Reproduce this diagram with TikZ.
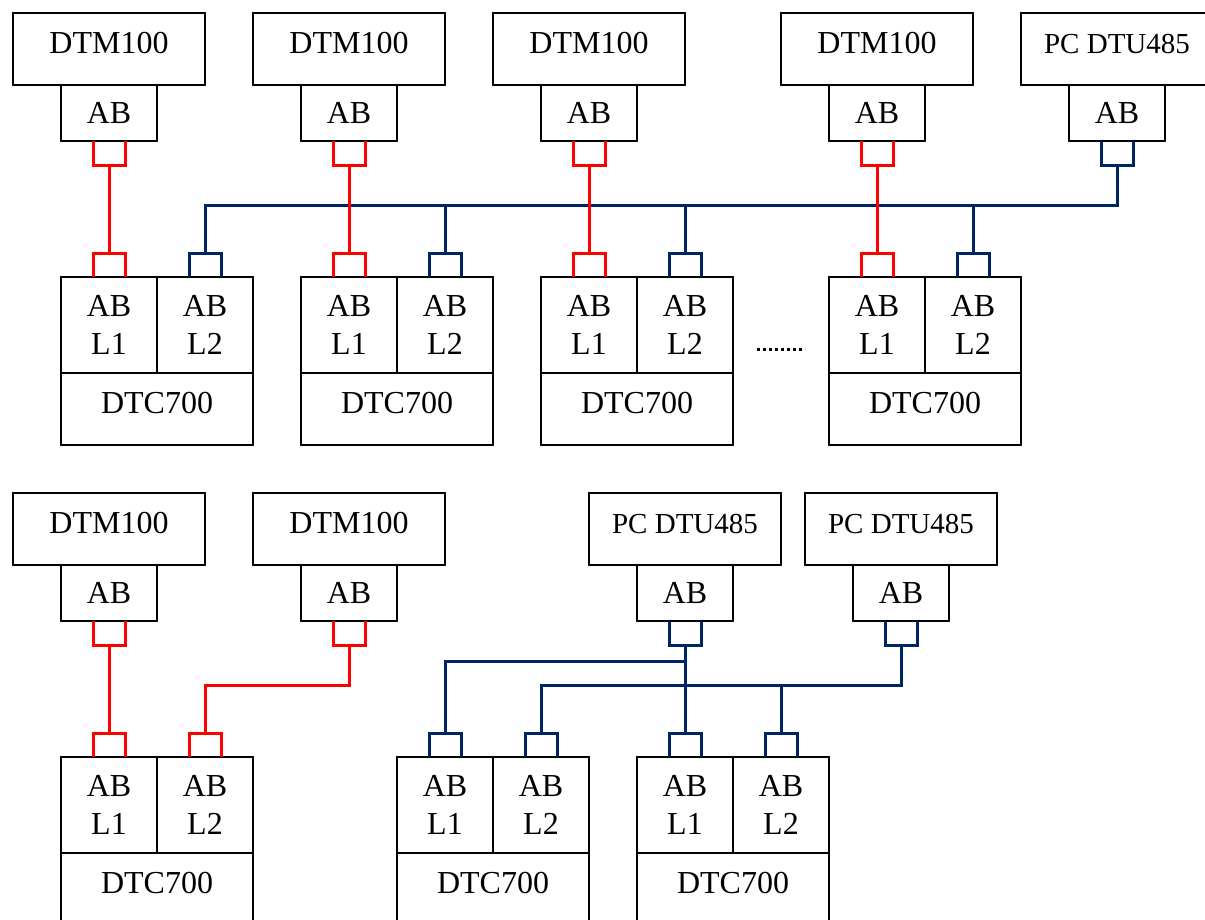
\documentclass[tikz,border=0pt]{standalone}
\usepackage{fontspec}
\setmainfont{Liberation Serif}
\usetikzlibrary{calc}
\definecolor{rd}{RGB}{255,0,0}
\definecolor{nv}{RGB}{0,36,104}
\tikzset{
  box/.style={draw=black, line width=2pt, inner sep=0pt, outer sep=0pt, anchor=north west,
    align=center, font=\fontsize{32}{38}\selectfont},
  hi/.style={text height=21pt, text depth=12pt},
  pcfont/.style={font=\fontsize{29}{35}\selectfont, text height=19pt, text depth=11pt},
  redw/.style={draw=rd, line width=3pt},
  bluew/.style={draw=nv, line width=3pt},
  dots/.style={draw=black, line width=3pt, dash pattern=on 3pt off 3pt},
}
\newcommand\dtmunit[4]{%
  \node[box, hi, minimum width=192pt, minimum height=72pt] (#1) at (#2,#3) {#4};
  \node[box, anchor=north, minimum width=96pt, minimum height=56pt] (#1ab) at (#1.south) {AB};}
\newcommand\pcunit[3]{%
  \node[box, pcfont, minimum width=192pt, minimum height=72pt] (#1) at (#2,#3) {PC DTU485};
  \node[box, anchor=north, minimum width=96pt, minimum height=56pt] (#1ab) at (#1.south) {AB};}
\newcommand\dtcunit[3]{%
  \node[box, minimum width=96pt, minimum height=96pt] (#1a) at (#2,#3) {AB\\L1};
  \node[box, minimum width=96pt, minimum height=96pt] (#1b) at (#1a.north east) {AB\\L2};
  \node[box, hi, minimum width=192pt, minimum height=72pt] (#1c) at (#1a.south west) {DTC700};}
\newcommand\plugbelow[2]{%
  \draw[#2] ($(#1.south)+(-16,0)$) -- ++(0,24) -- ++(32,0) -- ++(0,-24);
  \coordinate (#1-p) at ($(#1.south)+(0,24)$);}
\newcommand\plugabove[2]{%
  \draw[#2] ($(#1.north)+(-16,0)$) -- ++(0,-24) -- ++(32,0) -- ++(0,24);
  \coordinate (#1-p) at ($(#1.north)+(0,-24)$);}
\begin{document}
\begin{tikzpicture}[x=1pt,y=-1pt]
\useasboundingbox (0,0) rectangle (1205,919);
% ---------- top section ----------
\dtmunit{tm1}{13}{13}{DTM100}
\dtmunit{tm2}{253}{13}{DTM100}
\dtmunit{tm3}{493}{13}{DTM100}
\dtmunit{tm4}{781}{13}{DTM100}
\pcunit{tp1}{1021}{13}
\dtcunit{tc1}{61}{277}
\dtcunit{tc2}{301}{277}
\dtcunit{tc3}{541}{277}
\dtcunit{tc4}{829}{277}
\plugbelow{tm1ab}{redw}
\plugbelow{tm2ab}{redw}
\plugbelow{tm3ab}{redw}
\plugbelow{tm4ab}{redw}
\plugbelow{tp1ab}{bluew}
\plugabove{tc1a}{redw}
\plugabove{tc2a}{redw}
\plugabove{tc3a}{redw}
\plugabove{tc4a}{redw}
\plugabove{tc1b}{bluew}
\plugabove{tc2b}{bluew}
\plugabove{tc3b}{bluew}
\plugabove{tc4b}{bluew}
\draw[bluew] (tc1b-p) -- ++(0,-48) -| (tp1ab-p);
\draw[bluew] (tc2b-p) -- ++(0,-48);
\draw[bluew] (tc3b-p) -- ++(0,-48);
\draw[bluew] (tc4b-p) -- ++(0,-48);
\draw[redw] (tm1ab-p) -- (tc1a-p);
\draw[redw] (tm2ab-p) -- (tc2a-p);
\draw[redw] (tm3ab-p) -- (tc3a-p);
\draw[redw] (tm4ab-p) -- (tc4a-p);
\coordinate (dotA) at (757,349);
\coordinate (dotB) at (805,349);
\draw[dots] (dotA) -- (dotB);
% ---------- bottom section ----------
\dtmunit{bm1}{13}{493}{DTM100}
\dtmunit{bm2}{253}{493}{DTM100}
\pcunit{bp1}{589}{493}
\pcunit{bp2}{805}{493}
\dtcunit{bc1}{61}{757}
\dtcunit{bc2}{397}{757}
\dtcunit{bc3}{637}{757}
\plugbelow{bm1ab}{redw}
\plugbelow{bm2ab}{redw}
\plugbelow{bp1ab}{bluew}
\plugbelow{bp2ab}{bluew}
\plugabove{bc1a}{redw}
\plugabove{bc1b}{redw}
\plugabove{bc2a}{bluew}
\plugabove{bc2b}{bluew}
\plugabove{bc3a}{bluew}
\plugabove{bc3b}{bluew}
\draw[redw] (bm1ab-p) -- (bc1a-p);
\draw[redw] (bm2ab-p) -- ++(0,40) -| (bc1b-p);
\draw[bluew] (bp1ab-p) -- (bc3a-p);
\draw[bluew] (bp1ab-p) ++(0,16) -| (bc2a-p);
\draw[bluew] (bp2ab-p) -- ++(0,40) -| (bc2b-p);
\draw[bluew] (bc3b-p) -- ++(0,-48);
\end{tikzpicture}
\end{document}
